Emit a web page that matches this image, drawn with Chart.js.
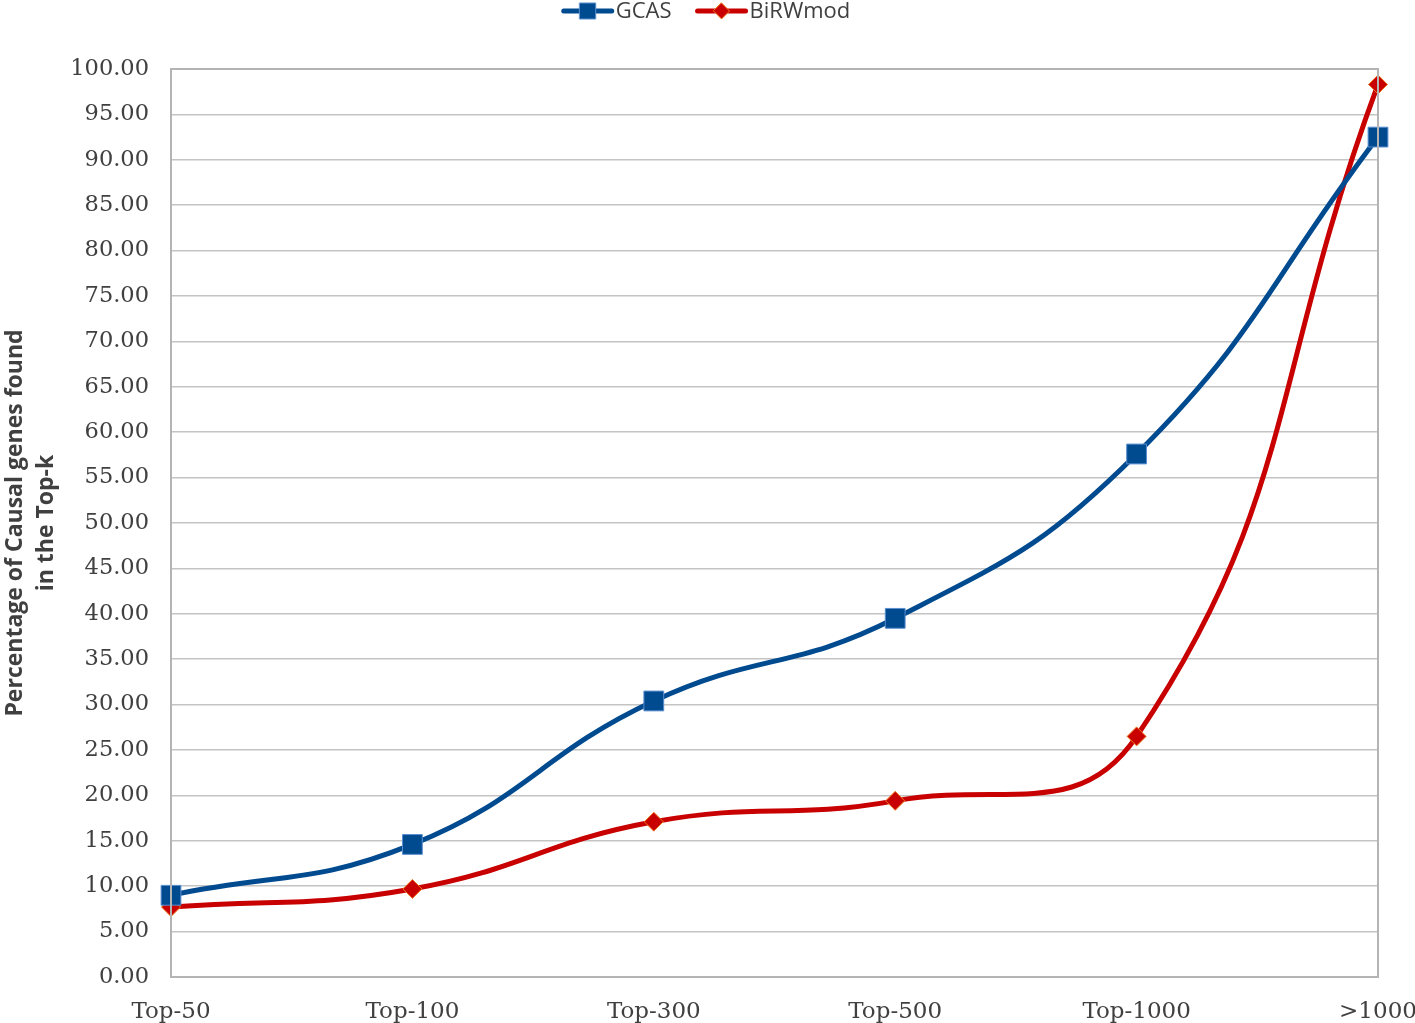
<!DOCTYPE html>
<html>
<head>
<meta charset="utf-8">
<script src="https://cdn.jsdelivr.net/npm/chart.js@4.4.1/dist/chart.umd.min.js"></script>
<style>
	html, body { margin: 0; padding: 0; background: #ffffff; }
	#wrap { width: 1415px; height: 1023px; }
</style>
</head>
<body>
<div id="wrap"><canvas id="chart"></canvas></div>
<script>
const categories = ["Top-50", "Top-100", "Top-300", "Top-500", "Top-1000", ">1000"];
const gcasValues = [9.0, 14.6, 30.4, 39.5, 57.6, 92.5];
const birwValues = [7.7, 9.7, 17.1, 19.4, 26.5, 98.3];

const blue = "#004a8f";
const red = "#c80000";

const areaBorder = {
	id: "areaBorder",
	afterDraw(chart) {
		const { ctx, chartArea } = chart;
		ctx.save();
		ctx.strokeStyle = "#b4b4b4";
		ctx.lineWidth = 2;
		ctx.strokeRect(chartArea.left, chartArea.top, chartArea.right - chartArea.left, chartArea.bottom - chartArea.top);
		ctx.restore();
	},
};

// Excel style legend: short line with the marker on it, text right after
const topLegend = {
	id: "topLegend",
	afterDraw(chart) {
		const { ctx } = chart;
		const sets = chart.data.datasets;
		const iconW = 52;
		const gap = 24;
		ctx.save();
		ctx.font = "22px 'Open Sans'";
		ctx.textBaseline = "middle";
		const widths = sets.map((ds) => iconW + 2 + ctx.measureText(ds.label).width);
		const total = widths.reduce((a, b) => a + b, 0) + gap * (sets.length - 1);
		let x = 706 - total / 2;
		const y = 11;
		sets.forEach((ds, i) => {
			ctx.strokeStyle = ds.borderColor;
			ctx.lineWidth = 5;
			ctx.lineCap = "round";
			ctx.beginPath();
			ctx.moveTo(x + 2, y);
			ctx.lineTo(x + iconW - 2, y);
			ctx.stroke();
			ctx.fillStyle = ds.pointBackgroundColor;
			ctx.strokeStyle = ds.pointBorderColor;
			ctx.lineWidth = 1;
			const cx = x + iconW / 2;
			ctx.beginPath();
			if (ds.pointStyle === "rect") {
				ctx.rect(cx - 8, y - 8, 16, 16);
			} else {
				ctx.moveTo(cx, y - 8);
				ctx.lineTo(cx + 8, y);
				ctx.lineTo(cx, y + 8);
				ctx.lineTo(cx - 8, y);
				ctx.closePath();
			}
			ctx.fill();
			ctx.stroke();
			ctx.fillStyle = "#404040";
			ctx.fillText(ds.label, x + iconW + 2, y + 1);
			x += widths[i] + gap;
		});
		ctx.restore();
	},
};

const ctx = document.getElementById("chart");

new Chart(ctx, {
	type: "line",
	data: {
		labels: categories,
		datasets: [
			{
				label: "GCAS",
				data: gcasValues,
				borderColor: blue,
				backgroundColor: blue,
				borderWidth: 5,
				tension: 0.45,
				pointStyle: "rect",
				pointRadius: 14,
				pointBorderColor: "#5a8fcf",
				pointBorderWidth: 1,
				pointBackgroundColor: blue,
			},
			{
				label: "BiRWmod",
				data: birwValues,
				borderColor: red,
				backgroundColor: red,
				borderWidth: 5,
				tension: 0.45,
				pointStyle: "rectRot",
				pointRadius: 9.5,
				pointBorderColor: "#f07a20",
				pointBorderWidth: 1,
				pointBackgroundColor: red,
			},
		],
	},
	options: {
		responsive: true,
		maintainAspectRatio: false,
		animation: false,
		layout: {
			padding: { left: 0, right: 0, top: 69, bottom: 0 },
		},
		plugins: {
			legend: { display: false },
			tooltip: { enabled: false },
		},
		scales: {
			x: {
				grid: { display: false, drawTicks: true, tickLength: 21 },
				border: { display: false },
				offset: false,
				ticks: {
					color: "#404040",
					font: { family: "'DejaVu Serif'", size: 23 },
					maxRotation: 0,
					autoSkip: false,
					padding: 0,
				},
				afterFit(scale) {
					scale.height = 46;
					scale.paddingRight = 37;
				},
			},
			y: {
				min: 0,
				max: 100,
				grid: { color: "#c4c4c4", lineWidth: 1.5, drawTicks: false },
				border: { display: false },
				ticks: {
					stepSize: 5,
					color: "#404040",
					font: { family: "'DejaVu Serif'", size: 22.5 },
					padding: 22,
					callback: (v) => v.toFixed(2),
				},
				title: {
					display: true,
					text: ["Percentage of Causal genes found", "in the Top-k"],
					color: "#404040",
					font: { family: "'Open Sans'", size: 23, weight: "bold", lineHeight: 1.35 },
					padding: 0,
				},
				afterFit(scale) {
					scale.width = 171;
				},
			},
		},
	},
	plugins: [areaBorder, topLegend],
});
</script>
</body>
</html>
